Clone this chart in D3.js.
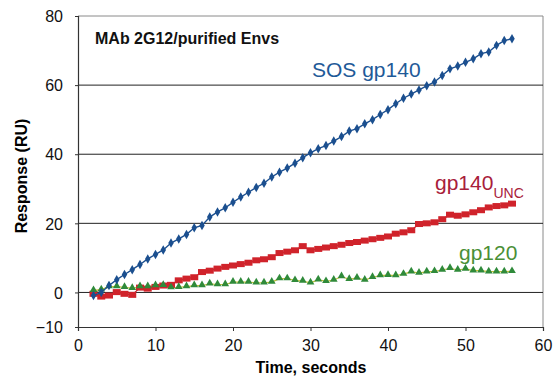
<!DOCTYPE html>
<html>
<head>
<meta charset="utf-8">
<script src="https://cdn.jsdelivr.net/npm/d3@7"></script>
<style>
  body { margin: 0; background: #fff; }
  text { font-family: "Liberation Sans", Arial, sans-serif; }
</style>
</head>
<body>
<svg id="chart"></svg>
<script>
// Data: time points (s) and the three response series (RU)
const times = d3.range(2, 57);
const sosGp140 = [-0.9, 0, 2, 3.7, 5.2, 6.6, 8.1, 9.7, 11, 12.3, 14.3, 15.5, 16.8, 18.7, 19.4, 21.8, 23.3, 24.5, 26.1, 27.6,
  29, 30.4, 31.6, 33.4, 34.8, 36, 37.4, 39, 40.4, 41.6, 42.5, 43.8, 45.1, 46.7, 47.4, 48.8, 50, 51.5, 52.9, 54.6,
  56.2, 57.4, 58.6, 59.8, 60.9, 62.8, 64.7, 65.5, 66.6, 67.6, 69.1, 69.6, 71.5, 72.9, 73.4];
const gp140Unc = [-0.4, -1.2, -0.9, 0.1, -0.4, -0.7, 1.4, 1.1, 1.6, 2, 2.2, 3.5, 4, 4.4, 5.9, 6.3, 6.9, 7.4, 7.8, 8.2,
  8.6, 9.3, 9.6, 10.2, 11.4, 11.8, 12.2, 13.4, 12.2, 12.6, 13, 13.4, 13.8, 14.3, 14.6, 15, 15.4, 15.8, 16.2, 17,
  17.4, 18, 19.8, 20, 20.3, 21.2, 22.5, 22.2, 22.6, 23.2, 23.8, 24.6, 25, 25.2, 25.7];
const gp120 = [0.6, 0.8, 1.7, 1.7, 1.5, 1.2, 1.7, 1.7, 2, 2.1, 1.4, 1.5, 1.7, 2, 2, 2.5, 2.3, 2.3, 3, 3,
  3, 2.8, 2.8, 3, 4, 4, 3.5, 3.3, 2.8, 3.7, 3.2, 3.6, 4.6, 3.8, 4.2, 3.6, 4.4, 4.9, 5, 4.9,
  5.3, 6, 5.6, 6, 6.1, 6.5, 7, 6.5, 6.8, 6.3, 6.3, 6, 6, 6, 6.1];
const xTicks = [0, 10, 20, 30, 40, 50, 60];
const yTicks = [-10, 0, 20, 40, 60, 80];
const gridValues = [0, 20, 40, 60];

const width = 556, height = 379;
const margin = {top: 16, right: 13, bottom: 52, left: 78};

const svg = d3.select("#chart").attr("width", width).attr("height", height);

const x = d3.scaleLinear().domain([0, 60]).range([margin.left, width - margin.right]);
const y = d3.scaleLinear().domain([-10, 80]).range([height - margin.bottom, margin.top]);

// frame (top and right, light grey)
svg.append("path")
    .attr("d", `M${x(0)},${y(80)}H${x(60)}V${y(-10)}`)
    .attr("fill", "none")
    .attr("stroke", "#8a8a8a")
    .attr("stroke-width", 1);

// horizontal grid lines
svg.append("g")
    .selectAll("line")
    .data(gridValues)
    .join("line")
    .attr("x1", x(0)).attr("x2", x(60))
    .attr("y1", d => y(d)).attr("y2", d => y(d))
    .attr("stroke", "#222")
    .attr("stroke-width", 1);

// axes
const xAxis = svg.append("g")
    .attr("transform", `translate(0,${y(-10)})`)
    .call(d3.axisBottom(x).tickValues(xTicks).tickSize(4).tickPadding(9));
const yAxis = svg.append("g")
    .attr("transform", `translate(${x(0)},0)`)
    .call(d3.axisLeft(y).tickValues(yTicks).tickSize(3).tickPadding(12));

[xAxis, yAxis].forEach(a => {
  a.select(".domain").attr("stroke", "#333").attr("stroke-width", 1.2);
  a.selectAll(".tick line").attr("stroke", "#333");
  a.selectAll(".tick text")
      .attr("fill", "#111")
      .style("font-size", "16px")
      .style("font-family", "'Liberation Sans', Arial, sans-serif");
});
yAxis.selectAll(".tick text").attr("dy", "0.36em");

// axis titles
svg.append("text")
    .attr("x", 311).attr("y", 373)
    .attr("text-anchor", "middle")
    .style("font-size", "16px").style("font-weight", "bold")
    .text("Time, seconds");
svg.append("text")
    .attr("transform", "translate(27,176) rotate(-90)")
    .attr("text-anchor", "middle")
    .style("font-size", "16px").style("font-weight", "bold")
    .text("Response (RU)");

// series helpers
const line = d3.line().x(d => x(d[0])).y(d => y(d[1]));
const zip = vals => times.map((t, i) => [t, vals[i]]);

// gp120 (green triangles, yellowish line)
const gData = zip(gp120);
svg.append("path").datum(gData)
    .attr("d", line).attr("fill", "none")
    .attr("stroke", "#c4c23a").attr("stroke-width", 1.2);

// gp140 UNC (red squares)
const rData = zip(gp140Unc);
svg.append("path").datum(rData)
    .attr("d", line).attr("fill", "none")
    .attr("stroke", "#b8202a").attr("stroke-width", 1.2);
svg.append("g").selectAll("rect")
    .data(rData)
    .join("rect")
    .attr("x", d => x(d[0]) - 4).attr("y", d => y(d[1]) - 3)
    .attr("width", 8).attr("height", 6)
    .attr("fill", "#d0232b");

svg.append("g").selectAll("path")
    .data(gData)
    .join("path")
    .attr("d", d3.symbol(d3.symbolTriangle, 26))
    .attr("transform", d => `translate(${x(d[0])},${y(d[1]) - 0.5})`)
    .attr("fill", "#2f8a3a");

// SOS gp140 (blue diamonds)
const bData = zip(sosGp140);
svg.append("path").datum(bData)
    .attr("d", line).attr("fill", "none")
    .attr("stroke", "#1b4f8f").attr("stroke-width", 1.4);
svg.append("g").selectAll("path")
    .data(bData)
    .join("path")
    .attr("d", d3.symbol(d3.symbolDiamond, 26))
    .attr("transform", d => `translate(${x(d[0])},${y(d[1])})`)
    .attr("fill", "#1b4f8f");

// labels
svg.append("text")
    .attr("x", 95).attr("y", 44)
    .style("font-size", "16px").style("font-weight", "bold")
    .attr("fill", "#111")
    .text("MAb 2G12/purified Envs");

svg.append("text")
    .attr("x", 312).attr("y", 77)
    .style("font-size", "21px")
    .attr("fill", "#1f5a98")
    .text("SOS gp140");

const unc = svg.append("text")
    .attr("x", 435).attr("y", 190)
    .style("font-size", "21px")
    .attr("fill", "#a8203a");
unc.append("tspan").text("gp140");
unc.append("tspan").attr("dy", 8).style("font-size", "14px").text("UNC");

svg.append("text")
    .attr("x", 459).attr("y", 260)
    .style("font-size", "21px")
    .attr("fill", "#4a8f36")
    .text("gp120");
</script>
</body>
</html>
